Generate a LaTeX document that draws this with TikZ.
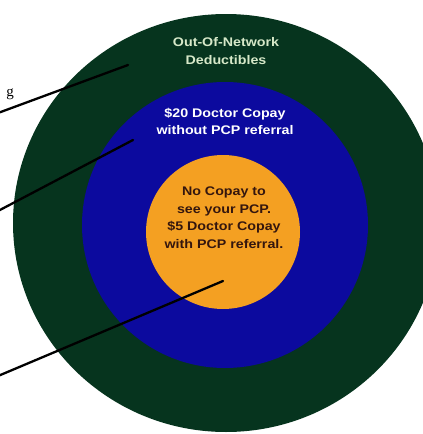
\documentclass[tikz,border=0pt]{standalone}
\usepackage{fontspec}
\setmainfont{Liberation Serif}
\setsansfont{Liberation Sans}
\usetikzlibrary{shapes.geometric}
\definecolor{ringgreen}{RGB}{6,52,30}
\definecolor{ringblue}{RGB}{12,10,158}
\definecolor{ringorange}{RGB}{244,160,34}
\definecolor{greentext}{RGB}{214,232,200}
\definecolor{orangetext}{RGB}{52,22,14}
\tikzset{
  ring/.style={draw=none, inner sep=0pt},
  lbl/.style={font=\sffamily\bfseries\fontsize{12.5}{17.5}\selectfont, align=center, inner sep=0pt, xscale=1.14},
  pointer/.style={line width=2.3pt, line cap=round, black}
}
\begin{document}
\begin{tikzpicture}[x=1pt,y=-1pt]
\useasboundingbox (0,0) rectangle (423,434);
\node[ring, ellipse, fill=ringgreen, minimum width=426pt, minimum height=418pt] (outer) at (226,223) {};
\node[ring, circle, fill=ringblue, minimum size=286pt] (middle) at (225,225) {};
\node[ring, circle, fill=ringorange, minimum size=154pt] (inner) at (223,232) {};
\node[lbl, text=greentext] (t1) at (226,51) {Out-Of-Network\\Deductibles};
\node[lbl, text=white] (t2) at (225,121.5) {\$20 Doctor Copay\\without PCP referral};
\node[lbl, text=orangetext] (t3) at (224,217.5) {No Copay to\\see your PCP.\\\$5 Doctor Copay\\with PCP referral.};
\node[anchor=base east, inner sep=0pt, font=\fontsize{15}{18}\selectfont] (side) at (14,96) {g};
\coordinate (l1a) at (-2,113);
\coordinate (l1b) at (128,65);
\coordinate (l2a) at (-2,211);
\coordinate (l2b) at (133,140);
\coordinate (l3a) at (-2,376);
\coordinate (l3b) at (223,281);
\draw[pointer] (l1a) -- (l1b);
\draw[pointer] (l2a) -- (l2b);
\draw[pointer] (l3a) -- (l3b);
\end{tikzpicture}
\end{document}
